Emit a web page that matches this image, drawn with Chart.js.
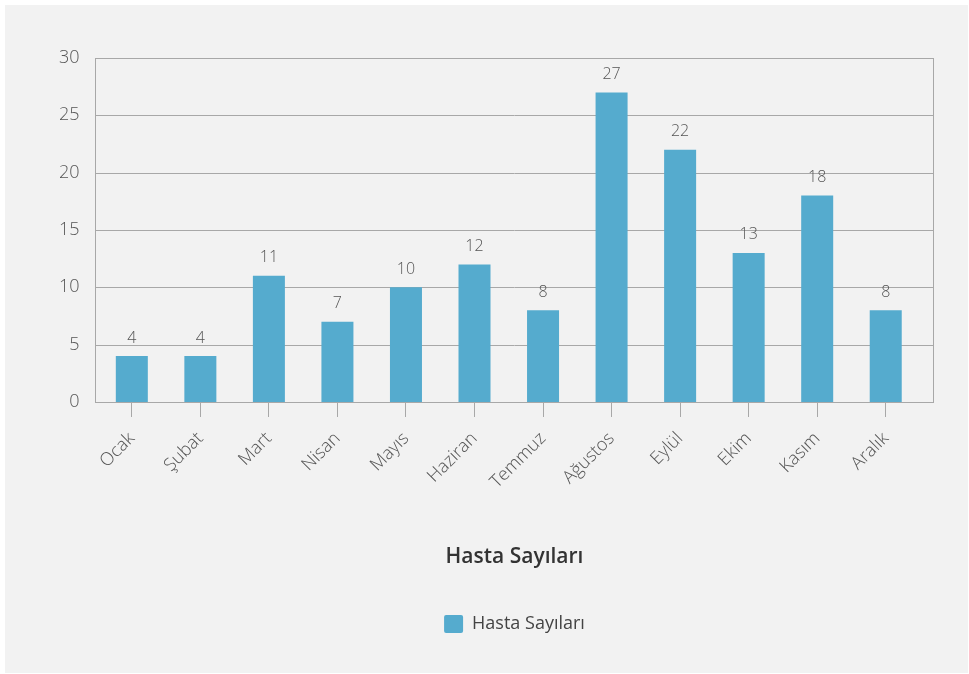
<!DOCTYPE html>
<html>
<head>
<meta charset="utf-8">
<script src="https://cdn.jsdelivr.net/npm/chart.js@4/dist/chart.umd.min.js"></script>
<style>
  html, body { margin: 0; padding: 0; background: #ffffff; }
  #wrap { position: absolute; left: 5px; top: 5px; width: 963px; height: 668px; background: #f2f2f2; }
  canvas { display: block; }
</style>
</head>
<body>
<div id="wrap"><canvas id="c" width="963" height="668"></canvas></div>
<script>
const categories = ["Ocak", "Şubat", "Mart", "Nisan", "Mayıs", "Haziran", "Temmuz", "Ağustos", "Eylül", "Ekim", "Kasım", "Aralık"];
const patientCounts = [4, 4, 11, 7, 10, 12, 8, 27, 22, 13, 18, 8];
const seriesName = "Hasta Sayıları";
const axisTitle = "Hasta Sayıları";

const FONT = "'Open Sans', 'Noto Sans', sans-serif";
const GRID = '#a8a8a8';
// the plot frame extends a little beyond the category axis (as in the reference)
const FRAME_EXTRA_LEFT = 3;
const FRAME_EXTRA_RIGHT = 13;

function frameBox(chart) {
  const a = chart.chartArea;
  return {
    left: Math.round(a.left - FRAME_EXTRA_LEFT) + 0.5,
    right: Math.round(a.right + FRAME_EXTRA_RIGHT) + 0.5,
    top: Math.round(a.top) + 0.5,
    bottom: Math.round(a.bottom) + 0.5
  };
}

const frame = {
  id: 'frame',
  afterLayout(chart) {
    // centre legend and title under the plot frame
    const f = frameBox(chart);
    const cx = (f.left + f.right) / 2;
    [chart.legend, chart.titleBlock].forEach(b => {
      if (!b) return;
      const d = cx - (b.left + b.right) / 2;
      b.left += d; b.right += d;
    });
  },
  beforeDatasetsDraw(chart) {
    const ctx = chart.ctx, f = frameBox(chart), y = chart.scales.y;
    ctx.save();
    ctx.strokeStyle = GRID;
    ctx.lineWidth = 1;
    y.ticks.forEach(t => {
      const py = Math.round(y.getPixelForValue(t.value)) + 0.5;
      ctx.beginPath(); ctx.moveTo(f.left, py); ctx.lineTo(f.right, py); ctx.stroke();
    });
    ctx.restore();
  },
  afterDraw(chart) {
    const ctx = chart.ctx, f = frameBox(chart);
    ctx.save();
    ctx.strokeStyle = GRID;
    ctx.lineWidth = 1;
    ctx.strokeRect(f.left, f.top, f.right - f.left, f.bottom - f.top);
    ctx.restore();
  }
};
const valueLabels = {
  id: 'valueLabels',
  afterDatasetsDraw(chart) {
    const ctx = chart.ctx;
    const meta = chart.getDatasetMeta(0);
    ctx.save();
    ctx.font = '300 16px ' + FONT;
    ctx.fillStyle = '#555555';
    ctx.textAlign = 'center';
    ctx.textBaseline = 'middle';
    meta.data.forEach((bar, i) => {
      ctx.fillText(String(chart.data.datasets[0].data[i]), bar.x, bar.y - 18);
    });
    ctx.restore();
  }
};

new Chart(document.getElementById('c'), {
  type: 'bar',
  data: {
    labels: categories,
    datasets: [{
      label: seriesName,
      data: patientCounts,
      backgroundColor: '#55abce',
      borderWidth: 0,
      categoryPercentage: 1,
      barPercentage: 0.467
    }]
  },
  options: {
    responsive: false,
    animation: false,
    layout: { padding: { left: 36, right: 48, top: 53, bottom: 30 } },
    plugins: {
      title: {
        display: true,
        position: 'bottom',
        weight: 500,
        text: axisTitle,
        font: { family: FONT, size: 21, weight: '600' },
        color: '#333333',
        padding: { top: 41, bottom: 25 }
      },
      legend: {
        position: 'bottom',
        labels: {
          font: { family: FONT, size: 18 },
          color: '#444444',
          boxWidth: 19,
          boxHeight: 18,
          padding: 20,
          useBorderRadius: true,
          borderRadius: 2
        }
      },
      tooltip: { enabled: false }
    },
    scales: {
      x: {
        grid: { offset: false, drawOnChartArea: false, drawTicks: true, tickLength: 15, color: GRID },
        border: { display: false },
        ticks: {
          font: { family: FONT, size: 18, weight: '300' },
          color: '#555555',
          maxRotation: 45,
          minRotation: 45,
          padding: 11
        }
      },
      y: {
        min: 0,
        max: 30,
        ticks: {
          stepSize: 5,
          font: { family: FONT, size: 18, weight: '300' },
          color: '#555555',
          padding: 18
        },
        grid: { display: false, drawTicks: false, tickLength: 0 },
        border: { display: false }
      }
    }
  },
  plugins: [frame, valueLabels]
});
</script>
</body>
</html>
